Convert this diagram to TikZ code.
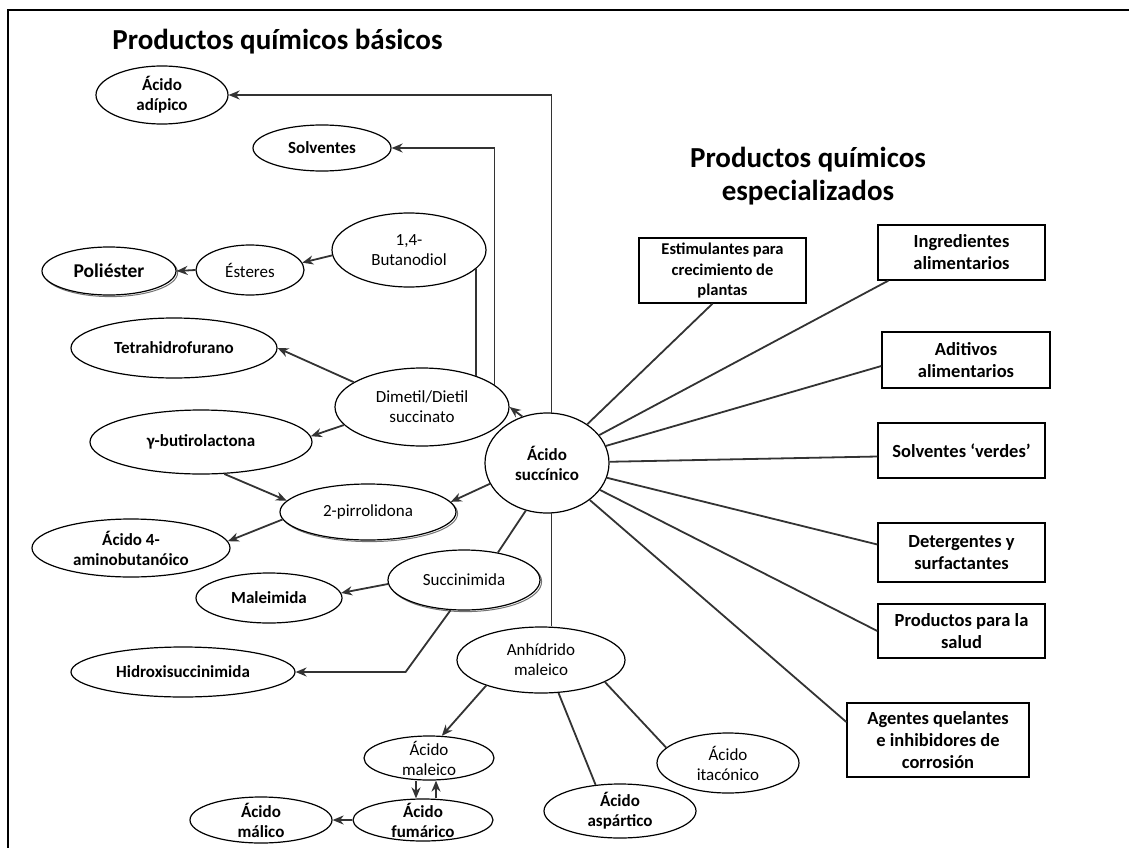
\documentclass[tikz,border=0pt]{standalone}
\usepackage{fontspec}
\setmainfont{Carlito}
\usetikzlibrary{shapes.geometric,arrows.meta,shadows}

% name, x, y, width, height, extra oval options, text style, text
\newcommand{\ovalnode}[8]{%
  \node[ovalbox,minimum width=#4,minimum height=#5,#6] (#1) at (#2,#3) {};
  \node[#7] (#1-txt) at (#1) {#8};}

\begin{document}
\begin{tikzpicture}[x=1pt,y=-1pt,
  ovalbox/.style={ellipse,draw=black,line width=1.2pt,fill=white,inner sep=0pt},
  shadowed/.style={general shadow={shadow xshift=1.6pt,shadow yshift=-1.6pt,draw=black!55,line width=1pt}},
  rtxt/.style={align=center,inner sep=0pt,font=\fontsize{17}{20}\selectfont},
  btxt/.style={align=center,inner sep=0pt,font=\fontsize{17}{20}\selectfont\bfseries},
  boxn/.style={rectangle,draw=black,line width=1.3pt,fill=white,align=center,inner sep=0pt,
    font=\fontsize{18.5}{22}\selectfont\bfseries},
  title/.style={inner sep=0pt,font=\fontsize{29}{33}\selectfont\bfseries},
  link/.style={draw=black!80,line width=1.8pt},
  arr/.style={link,-{Stealth[length=11pt,width=9pt,inset=3.5pt]}}]

\useasboundingbox (0,0) rectangle (1129,848);
\draw[line width=2pt] (8,848) -- (8,10) -- (1129,10);

% headings
\node[title,anchor=base] (t1) at (277.5,50) {Productos químicos básicos};
\node[title,align=center,anchor=base] (t2) at (808,200) {Productos químicos\\especializados};

% basic chemicals
\ovalnode{adip}{162}{95}{132}{58}{}{btxt}{Ácido\\adípico}
\ovalnode{solv}{322}{148}{138}{46}{}{btxt}{Solventes}
\ovalnode{but}{409}{250}{154}{74}{}{rtxt}{1,4-\\Butanodiol}
\ovalnode{ste}{250}{270}{108}{50}{}{rtxt}{Ésteres}
\ovalnode{pol}{109}{271}{134}{48}{shadowed}{btxt,font=\fontsize{19.5}{23}\selectfont\bfseries}{Poliéster}
\ovalnode{thf}{174}{348}{206}{60}{}{btxt}{Tetrahidrofurano}
\ovalnode{dim}{422}{407}{174}{78}{}{rtxt}{Dimetil/Dietil\\succinato}
\ovalnode{gam}{201}{442}{222}{64}{}{btxt}{γ-butirolactona}
\ovalnode{suc}{547}{463}{124}{100}{}{btxt}{Ácido\\succínico}
\ovalnode{pir}{368}{512}{176}{56}{shadowed}{rtxt}{2-pirrolidona}
\ovalnode{ami}{131}{548}{198}{58}{}{btxt}{Ácido 4-\\aminobutanóico}
\ovalnode{sin}{464}{580}{152}{60}{shadowed}{rtxt}{Succinimida}
\ovalnode{mal}{269}{598}{146}{50}{}{btxt}{Maleimida}
\ovalnode{hid}{183}{672}{224}{50}{}{btxt}{Hidroxisuccinimida}
\ovalnode{anh}{541}{660}{168}{66}{}{rtxt}{Anhídrido\\maleico}
\ovalnode{mae}{429}{758}{130}{44}{}{rtxt}{Ácido\\maleico}
\ovalnode{fum}{423}{820}{140}{42}{}{btxt}{Ácido\\fumárico}
\ovalnode{mlc}{261}{820}{142}{46}{}{btxt}{Ácido\\málico}
\ovalnode{asp}{620}{811}{152}{54}{}{btxt}{Ácido\\aspártico}
\ovalnode{ita}{728}{763}{142}{60}{}{rtxt}{Ácido\\itacónico}

% specialty chemicals
\node[boxn,minimum width=167,minimum height=65,font=\fontsize{16.5}{20.5}\selectfont\bfseries] (est) at (722.5,270.5) {Estimulantes para\\crecimiento de\\plantas};
\node[boxn,minimum width=167,minimum height=55] (ing) at (961.5,252.5) {Ingredientes\\alimentarios};
\node[boxn,minimum width=168,minimum height=56] (adt) at (966,360) {Aditivos\\alimentarios};
\node[boxn,minimum width=167,minimum height=55] (ver) at (961.5,450.5) {Solventes ‘verdes’};
\node[boxn,minimum width=167,minimum height=59] (det) at (961.5,552.5) {Detergentes y\\surfactantes};
\node[boxn,minimum width=167,minimum height=54] (sal) at (961.5,631) {Productos para la\\salud};
\node[boxn,minimum width=182,minimum height=74] (age) at (938,740) {Agentes quelantes\\e inhibidores de\\corrosión};

% routes from succinic acid to basic chemicals
\draw[arr] (suc.85) |- (adip.east);
\draw[arr] (dim.17) |- (solv.east);
\draw[link] (but.-16) -- (but.-16 |- dim.30);
\draw[arr] (suc.118) -- (dim.east);
\draw[arr] (but.184) -- (ste.8);
\draw[arr] (ste.west) -- (pol.east);
\draw[arr] (dim.160) -- (thf.east);
\draw[arr] (dim.-167) -- (gam.3);
\draw[arr] (gam.-54) -- (pir.172);
\draw[arr] (suc.-160) -- (pir.7);
\draw[arr] (pir.-175) -- (ami.4);
\draw[link] (suc.-114) -- (sin.39);
\draw[arr] (sin.183) -- (mal.4);
\draw[arr] (sin.-114) -- ([xshift=110pt]hid.east) -- (hid.east);
\draw[link] (suc.-85) -- (suc.-85 |- anh.north);
\draw[arr] (anh.-155) -- (mae.60);
\draw[link] (anh.-62) -- (asp.133);
\draw[link] (anh.-19) -- (ita.166);
\draw[arr] ([xshift=-13pt]mae.south) -- ([xshift=-13pt]mae.south |- fum.north);
\draw[arr] ([xshift=7pt]mae.south |- fum.north) -- ([xshift=7pt]mae.south);
\draw[arr] (fum.west) -- (mlc.east);

% links to specialty chemicals
\draw[link] (suc) -- ([xshift=-10pt]est.south);
\draw[link] (suc) -- ([xshift=11pt]ing.south west);
\draw[link] (suc) -- ([yshift=-6pt]adt.west);
\draw[link] (suc) -- ([yshift=-6pt]ver.west);
\draw[link] (suc) -- ([yshift=8pt]det.west);
\draw[link] (suc) -- (sal.west);
\draw[link] (suc) -- ([yshift=18pt]age.west);
\end{tikzpicture}
\end{document}
